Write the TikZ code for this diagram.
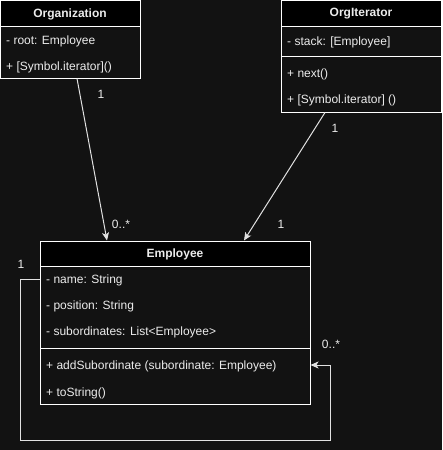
\documentclass[tikz,border=0pt]{standalone}
\usepackage{fontspec}
\setmainfont{Liberation Sans}
\usetikzlibrary{arrows.meta,calc}
\definecolor{bg}{RGB}{18,18,18}
\definecolor{fg}{RGB}{236,236,236}
\definecolor{ln}{RGB}{225,225,225}
\begin{document}
\begin{tikzpicture}[x=1pt,y=-1pt,
  frame/.style={draw=white,line width=1pt,fill=bg,rectangle,anchor=north west,inner sep=0pt},
  hdr/.style={draw=white,line width=1pt,fill=black},
  ttl/.style={text=fg,font=\fontsize{12}{14}\selectfont\bfseries,inner sep=0pt,yshift=-1pt},
  row/.style={text=fg,font=\fontsize{12}{14}\selectfont,anchor=west,inner sep=0pt,yshift=-1pt},
  mult/.style={text=fg,font=\fontsize{12}{14}\selectfont,inner sep=0pt,yshift=-1pt},
  conn/.style={draw=ln,line width=1pt,-{Stealth[length=8pt,width=7pt,inset=2pt]}},
  sep/.style={draw=white,line width=1pt}]
\useasboundingbox[fill=bg] (0,0) rectangle (442,450);

% Organization
\node[frame,minimum width=140pt,minimum height=78pt] (org) at (0,0) {};
\draw[hdr] (0,0) rectangle (140,26);
\node[ttl] (orgt) at (70,13) {Organization};
\node[row] (org1) at (6,40) {- root: Employee};
\node[row] (org2) at (6,66) {+ [Symbol.iterator]()};

% OrgIterator
\node[frame,minimum width=160pt,minimum height=112pt] (it) at (281,0) {};
\draw[hdr] (281,0) rectangle (441,26);
\node[ttl] (itt) at (361,13) {OrgIterator};
\node[row] (it1) at (287,41) {- stack: [Employee]};
\draw[sep] (281,56) -- (441,56);
\node[row] (it2) at (287,73) {+ next()};
\node[row] (it3) at (287,99) {+ [Symbol.iterator] ()};

% Employee
\node[frame,minimum width=270pt,minimum height=163pt] (emp) at (40,241) {};
\draw[hdr] (40,241) rectangle (310,266);
\node[ttl] (empt) at (175,253.5) {Employee};
\node[row] (e1) at (46,279) {- name: String};
\node[row] (e2) at (46,305) {- position: String};
\node[row] (e3) at (46,331) {- subordinates: List<Employee>};
\draw[sep] (40,348) -- (310,348);
\node[row] (e4) at (46,365) {+ addSubordinate (subordinate: Employee)};
\node[row] (e5) at (46,392) {+ toString()};

% connectors
\coordinate (oa) at (77,78.5);
\coordinate (ob) at (107,240.5);
\draw[conn] (oa) -- (ob);
\coordinate (ia) at (325,112.5);
\coordinate (ib) at (244,240.5);
\draw[conn] (ia) -- (ib);
\coordinate (sa) at (40,279);
\coordinate (sb) at (310.5,365);
\draw[conn] (sa) -- (20,279) -- (20,440) -- (330,440) -- (330,365) -- (sb);

% multiplicities
\node[mult] (m1) at (101,93) {1};
\node[mult] (m2) at (121,223) {0..*};
\node[mult] (m3) at (335,127) {1};
\node[mult] (m4) at (281,223) {1};
\node[mult] (m5) at (21,263) {1};
\node[mult] (m6) at (331,343) {0..*};
\end{tikzpicture}
\end{document}
